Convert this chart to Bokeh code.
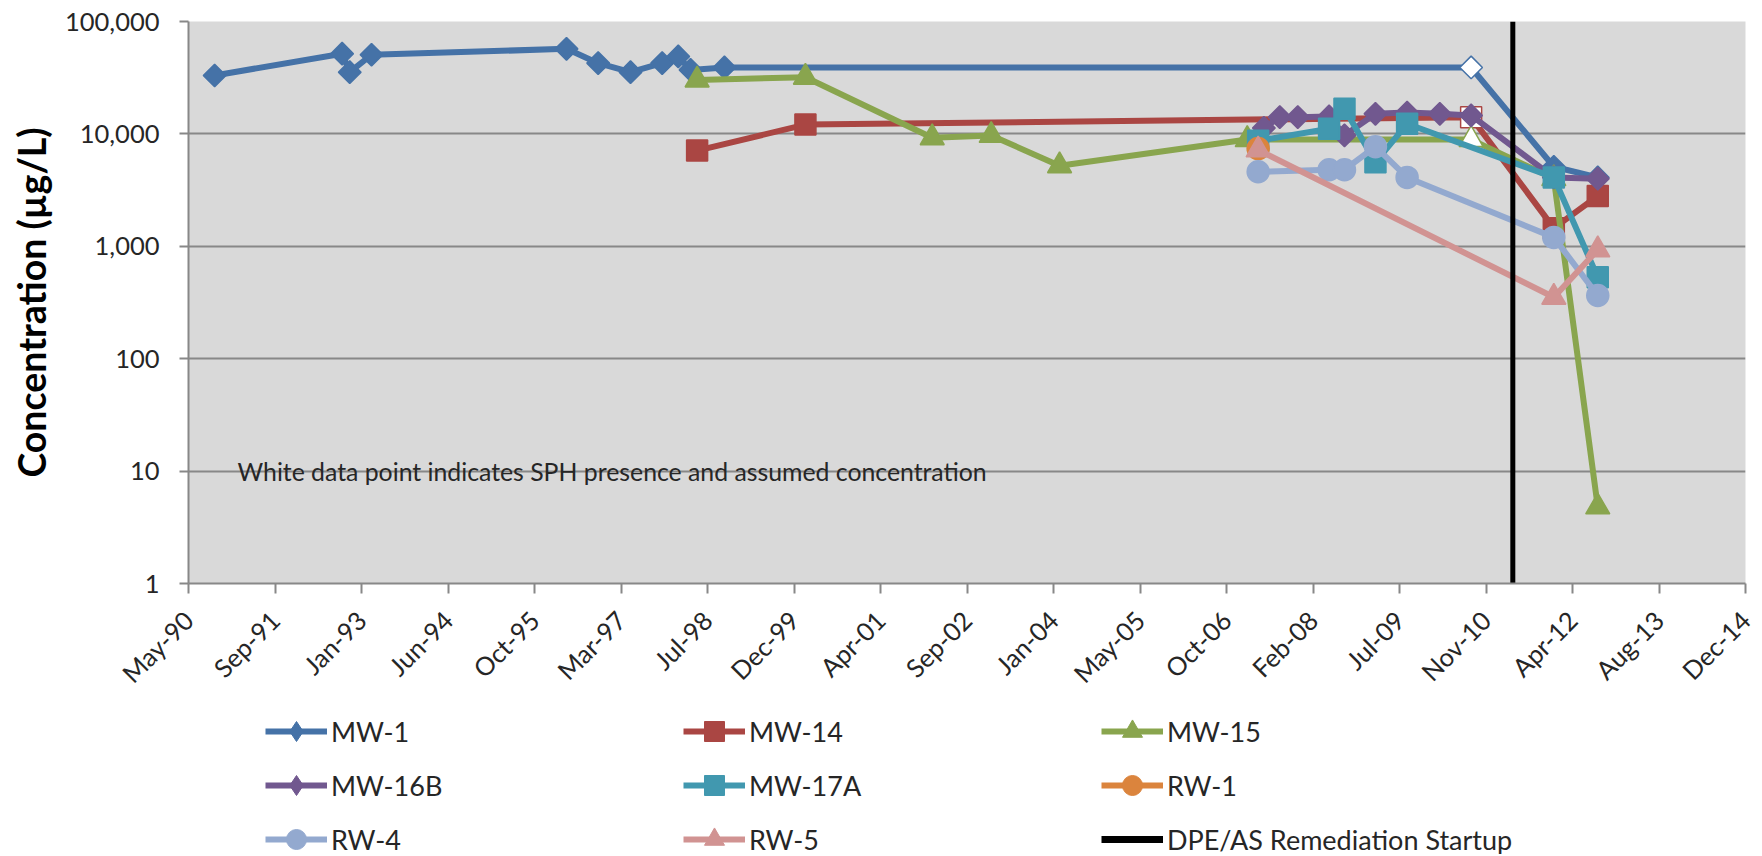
import pandas as pd
from math import pi
from bokeh.plotting import figure
from bokeh.layouts import column
from bokeh.models import (Range1d, FixedTicker, NumeralTickFormatter, DatetimeTickFormatter,
                          Legend, LegendItem, Label, ColumnDataSource)
from bokeh.embed import file_html
from bokeh.resources import INLINE

# ---------------- data ----------------
tick_dates = ["1990-05-07", "1991-09-19", "1993-01-31", "1994-06-15", "1995-10-28",
              "1997-03-11", "1998-07-24", "1999-12-06", "2001-04-19", "2002-09-01",
              "2004-01-14", "2005-05-28", "2006-10-10", "2008-02-22", "2009-07-06",
              "2010-11-18", "2012-04-01", "2013-08-14", "2014-12-27"]
tick_labels = ["May-90", "Sep-91", "Jan-93", "Jun-94", "Oct-95", "Mar-97", "Jul-98",
               "Dec-99", "Apr-01", "Sep-02", "Jan-04", "May-05", "Oct-06", "Feb-08",
               "Jul-09", "Nov-10", "Apr-12", "Aug-13", "Dec-14"]
y_ticks = [1, 10, 100, 1000, 10000, 100000]

mw1_dates = ["1990-10-05", "1992-10-11", "1992-11-24", "1993-03-30", "1996-04-30",
             "1996-10-30", "1997-05-05", "1997-11-04", "1998-02-05", "1998-04-17",
             "1998-10-30", "2010-08-24", "2011-12-15", "2012-08-25"]
mw1_values = [33100, 51700, 35400, 50600, 57100, 42600, 35400, 42600, 48900, 37100,
              39000, 39000, 5100, 4100]
mw1_sph = [0, 0, 0, 0, 0, 0, 0, 0, 0, 0, 0, 1, 0, 0]

mw14_dates = ["1998-05-25", "2000-02-10", "2010-08-24", "2011-12-15", "2012-08-25"]
mw14_values = [7100, 12100, 14100, 1450, 2800]
mw14_sph = [0, 0, 1, 0, 0]

mw15_dates = ["1998-05-25", "2000-02-10", "2002-02-12", "2003-01-19", "2004-02-18",
              "2007-02-07", "2010-08-24", "2011-12-15", "2012-08-25"]
mw15_values = [30200, 31900, 9250, 9700, 5200, 8900, 8900, 4000, 4.8]
mw15_sph = [0, 0, 0, 0, 0, 0, 1, 0, 0]

mw16b_dates = ["2007-05-14", "2007-08-14", "2007-11-26", "2008-05-25", "2008-08-22",
               "2009-02-17", "2009-08-19", "2010-02-24", "2010-08-24", "2011-12-15",
               "2012-08-25"]
mw16b_values = [11300, 14100, 14100, 14300, 9700, 15100, 15500, 15100, 14600, 4100, 4000]
mw16b_sph = [0] * 11

mw17a_dates = ["2007-04-11", "2008-05-25", "2008-08-22", "2009-02-17", "2009-08-19",
               "2011-12-15", "2012-08-25"]
mw17a_values = [8700, 11100, 16700, 5600, 12300, 4100, 530]
mw17a_sph = [0] * 7

rw1_dates = ["2007-04-11"]
rw1_values = [7400]
rw1_sph = [0]

rw4_dates = ["2007-04-11", "2008-05-25", "2008-08-22", "2009-02-17", "2009-08-19",
             "2011-12-15", "2012-08-25"]
rw4_values = [4600, 4800, 4800, 7700, 4100, 1200, 365]
rw4_sph = [0] * 7

rw5_dates = ["2007-04-11", "2011-12-15", "2012-08-25"]
rw5_values = [7200, 352, 930]
rw5_sph = [0] * 3

remediation_dates = ["2011-04-22", "2011-04-22"]
remediation_values = [1, 100000]

# ---------------- styling ----------------
FONT = "Lato"
TEXT = "#262626"
GRID = "#888888"

# name, dates, values, sph flags, colour, marker, size, angle, legend marker
series = [
    ("MW-1", mw1_dates, mw1_values, mw1_sph, "#4572A7", "square", 16, pi / 4, "diamond"),
    ("MW-14", mw14_dates, mw14_values, mw14_sph, "#AA4643", "square", 21, 0, "square"),
    ("MW-15", mw15_dates, mw15_values, mw15_sph, "#89A54E", "triangle", 24, 0, "triangle"),
    ("MW-16B", mw16b_dates, mw16b_values, mw16b_sph, "#71588F", "square", 16, pi / 4, "diamond"),
    ("MW-17A", mw17a_dates, mw17a_values, mw17a_sph, "#4198AF", "square", 21, 0, "square"),
    ("RW-1", rw1_dates, rw1_values, rw1_sph, "#DB843D", "circle", 22, 0, "circle"),
    ("RW-4", rw4_dates, rw4_values, rw4_sph, "#93A9CF", "circle", 22, 0, "circle"),
    ("RW-5", rw5_dates, rw5_values, rw5_sph, "#D19392", "triangle", 24, 0, "triangle"),
]

W = 1760
p = figure(width=W, height=702, x_axis_type="datetime", y_axis_type="log",
           x_range=Range1d(pd.Timestamp(tick_dates[0]), pd.Timestamp(tick_dates[-1])),
           y_range=Range1d(y_ticks[0], y_ticks[-1]),
           output_backend="svg", toolbar_location=None,
           min_border_left=188, min_border_right=15, min_border_top=21, min_border_bottom=119,
           background_fill_color="#D9D9D9", border_fill_color="white",
           outline_line_color=None)

# axes
tick_ms = [pd.Timestamp(d).value / 1e6 for d in tick_dates]
p.xaxis.ticker = FixedTicker(ticks=tick_ms)
fmt = "%b-%y"
p.xaxis.formatter = DatetimeTickFormatter(microseconds=fmt, milliseconds=fmt, seconds=fmt,
                                          minsec=fmt, minutes=fmt, hourmin=fmt, hours=fmt,
                                          days=fmt, months=fmt, years=fmt)
p.xaxis.major_label_overrides = {ms: lab for ms, lab in zip(tick_ms, tick_labels)}
p.xaxis.major_label_orientation = pi / 4
p.xaxis.major_tick_out = 10
p.xaxis.major_tick_in = 0
p.xaxis.minor_tick_line_color = None
p.xaxis.major_label_standoff = 22

p.yaxis.ticker = FixedTicker(ticks=y_ticks)
p.yaxis.formatter = NumeralTickFormatter(format="0,0")
p.yaxis.major_tick_out = 9
p.yaxis.major_tick_in = 0
p.yaxis.minor_tick_line_color = None
p.yaxis.major_label_standoff = 20
p.yaxis.axis_label = "Concentration (µg/L)"
p.yaxis.axis_label_text_font = FONT
p.yaxis.axis_label_text_font_style = "bold"
p.yaxis.axis_label_text_font_size = "37.5px"
p.yaxis.axis_label_text_color = "#000000"
p.yaxis.axis_label_standoff = 8

for ax in (p.xaxis, p.yaxis):
    ax.axis_line_color = GRID
    ax.axis_line_width = 2
    ax.major_tick_line_color = GRID
    ax.major_tick_line_width = 2
    ax.major_label_text_font = FONT
    ax.major_label_text_font_size = "25.5px"
    ax.major_label_text_color = TEXT

p.xgrid.grid_line_color = None
p.ygrid.grid_line_color = GRID
p.ygrid.grid_line_width = 2
p.ygrid.minor_grid_line_color = None

# legend strip (separate figure so the legend is not clipped by the plot area);
# its own ranges keep the series' points out of view, only the swatches show
lf = figure(width=W, height=152, x_range=Range1d(0, 1), y_range=Range1d(0, 1),
            x_axis_location=None, y_axis_location=None, output_backend="svg",
            toolbar_location=None, min_border=0, outline_line_color=None,
            background_fill_color="white", border_fill_color="white")
lf.xgrid.grid_line_color = None
lf.ygrid.grid_line_color = None

# series
items = []
for name, dates, vals, sph, color, marker, size, angle, lmarker in series:
    src = ColumnDataSource(dict(x=pd.to_datetime(dates), y=vals,
                                fill=["white" if s else color for s in sph]))
    p.line("x", "y", source=src, line_color=color, line_width=6, line_join="round")
    p.scatter("x", "y", source=src, marker=marker, size=size, angle=angle,
              fill_color="fill", line_color=color, line_width=1.5)
    ll = lf.line("x", "y", source=src, line_color=color, line_width=6)
    ls = lf.scatter("x", "y", source=src, marker=lmarker, fill_color=color,
                    line_color=color, line_width=1)
    items.append(LegendItem(label=name, renderers=[ll, ls]))

rsrc = ColumnDataSource(dict(x=pd.to_datetime(remediation_dates), y=remediation_values))
p.line("x", "y", source=rsrc, line_color="black", line_width=5)
rl = lf.line("x", "y", source=rsrc, line_color="black", line_width=7)
items.append(LegendItem(label="DPE/AS Remediation Startup", renderers=[rl]))

legend = Legend(items=items, orientation="horizontal", ncols=3, location=(77, -10),
                glyph_width=62, glyph_height=50, label_standoff=4, label_width=348,
                spacing=4, padding=0, margin=0, border_line_color=None,
                background_fill_alpha=0, label_text_font=FONT,
                label_text_font_size="27px", label_text_color=TEXT)
lf.add_layout(legend, "center")

note = Label(x=49, y=10, x_units="screen", y_units="data",
             text="White data point indicates SPH presence and assumed concentration",
             text_font=FONT, text_font_size="24.8px", text_color=TEXT,
             text_baseline="alphabetic")
p.add_layout(note)

open("out.html", "w").write(file_html(column(p, lf), INLINE))
